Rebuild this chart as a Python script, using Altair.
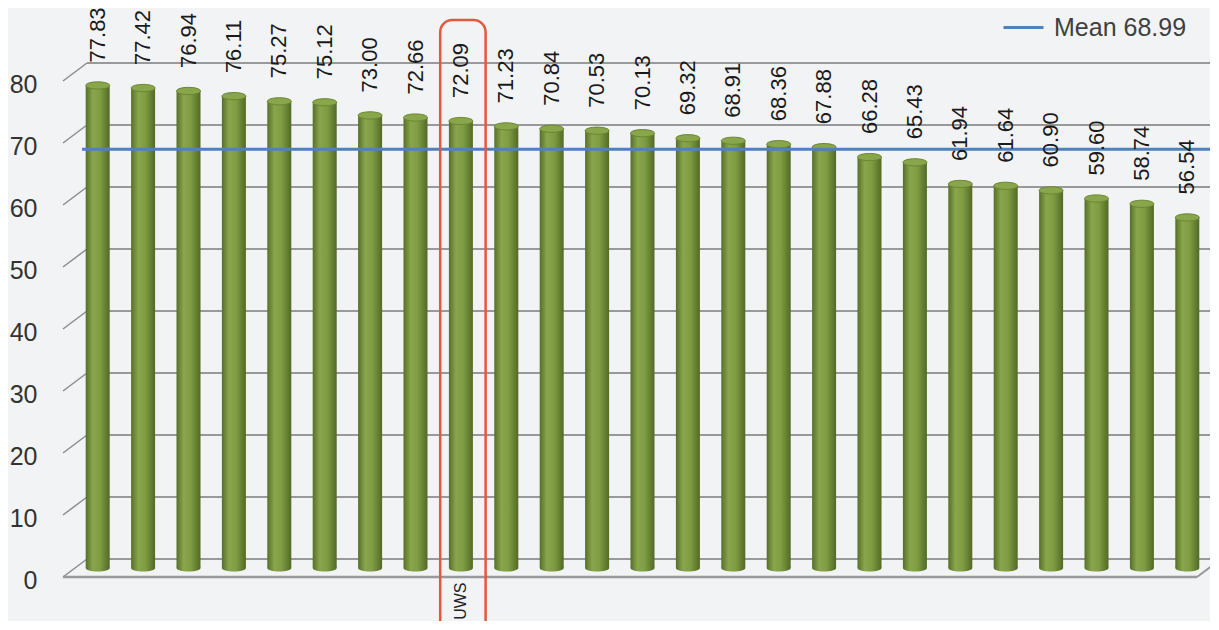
import altair as alt
import pandas as pd

# ---- data ----
categories = ["U01", "U02", "U03", "U04", "U05", "U06", "U07", "U08", "UWS",
              "U10", "U11", "U12", "U13", "U14", "U15", "U16", "U17", "U18",
              "U19", "U20", "U21", "U22", "U23", "U24", "U25"]
values = [77.83, 77.42, 76.94, 76.11, 75.27, 75.12, 73.00, 72.66, 72.09,
          71.23, 70.84, 70.53, 70.13, 69.32, 68.91, 68.36, 67.88, 66.28,
          65.43, 61.94, 61.64, 60.90, 59.60, 58.74, 56.54]
y_ticks = [0, 10, 20, 30, 40, 50, 60, 70, 80]
mean_value = 68.99
mean_label = "Mean 68.99"
highlight = "UWS"

W, H = 1135, 496
FONT = "Liberation Sans"

bars_df = pd.DataFrame({"cat": categories, "val": values})
bars_df["lbl"] = [f"{v:.2f}" for v in values]
grid_df = pd.DataFrame({"g": y_ticks})
floor_df = pd.DataFrame({"g": [0]})
mean_df = pd.DataFrame({"m": [mean_value], "name": [mean_label]})
hl_df = pd.DataFrame({"cat": [highlight]})

x_enc = alt.X("cat:N", sort=categories,
              scale=alt.Scale(paddingInner=0, paddingOuter=0),
              axis=alt.Axis(title=None, domain=False, ticks=False, tickSize=0,
                            grid=False, labelAngle=270, labelPadding=14,
                            labelFont=FONT, labelFontSize=16, labelColor="#222",
                            labelExpr=f"datum.value == '{highlight}' ? '{highlight}' : ''"))
y_scale = alt.Scale(domain=[0, 80], nice=False)
y_enc = alt.Y("val:Q", scale=y_scale,
              axis=alt.Axis(title=None, values=y_ticks, domain=False, ticks=False,
                            tickSize=0, grid=False, labelPadding=38, labelOffset=12,
                            labelFont=FONT, labelFontSize=25, labelColor="#333"))

grad = alt.Gradient(gradient="linear", x1=0, x2=1, y1=0, y2=0,
                    stops=[alt.GradientStop(offset=0, color="#566f29"),
                           alt.GradientStop(offset=0.3, color="#8aa64c"),
                           alt.GradientStop(offset=0.6, color="#7f9c42"),
                           alt.GradientStop(offset=1, color="#526a26")])
ellipse = "M -1 0 A 1 0.3 0 1 0 1 0 A 1 0.3 0 1 0 -1 0 Z"

grid = alt.Chart(grid_df).mark_rule(yOffset=-9, color="#999999", strokeWidth=2).encode(
    y=alt.Y("g:Q", scale=y_scale), x=alt.value(12), x2=alt.value(W))
side = alt.Chart(grid_df).mark_rule(yOffset=9, y2Offset=-9, color="#8c8c8c", strokeWidth=1.5).encode(
    y=alt.Y("g:Q", scale=y_scale), y2="g:Q", x=alt.value(-12), x2=alt.value(12))
floor = alt.Chart(floor_df).mark_rule(yOffset=9, color="#999999", strokeWidth=2.5).encode(
    y=alt.Y("g:Q", scale=y_scale), x=alt.value(-12), x2=alt.value(W - 13))
floor_r = alt.Chart(floor_df).mark_rule(yOffset=9, y2Offset=-9, color="#999999", strokeWidth=2).encode(
    y=alt.Y("g:Q", scale=y_scale), y2="g:Q", x=alt.value(W - 13), x2=alt.value(W + 11))

bottoms = alt.Chart(bars_df).mark_point(shape=ellipse, size=576, filled=True, fill=grad,
                                        opacity=1, strokeWidth=0).encode(
    x=x_enc, y=alt.Y("zero:Q", scale=y_scale)).transform_calculate(zero="0")
bars = alt.Chart(bars_df).mark_bar(width=24, fill=grad).encode(x=x_enc, y=y_enc)
tops = alt.Chart(bars_df).mark_point(shape=ellipse, size=576, filled=True, fill="#8aa64b",
                                     stroke="#6a8632", strokeWidth=1, opacity=1).encode(
    x=x_enc, y=alt.Y("val:Q", scale=y_scale))
labels = alt.Chart(bars_df).mark_text(angle=270, align="left", baseline="middle", yOffset=-23,
                                      font=FONT, fontSize=22, color="#1a1a1a").encode(
    x=x_enc, y=alt.Y("val:Q", scale=y_scale), text="lbl:N")

mean_line = alt.Chart(mean_df).mark_rule(yOffset=9, strokeWidth=3).encode(
    y=alt.Y("m:Q", scale=y_scale), x=alt.value(7), x2=alt.value(W),
    color=alt.Color("name:N", scale=alt.Scale(range=["#4f81bd"]),
                    legend=alt.Legend(orient="none", legendX=927, legendY=-66, title=None,
                                      symbolType="stroke", symbolStrokeWidth=3, symbolSize=1600,
                                      labelFont=FONT, labelFontSize=25, labelColor="#404040",
                                      labelOffset=9)))

box = alt.Chart(hl_df).mark_rect(fillOpacity=0, fill="white", stroke="#e05a3f", strokeWidth=2.5,
                                 cornerRadius=12, xOffset=2).encode(
    x=x_enc, y=alt.value(-52), y2=alt.value(H + 80))

chart = alt.layer(grid, side, floor, floor_r, bottoms, bars, tops, mean_line, labels, box).properties(
    width=W, height=H,
    autosize=alt.AutoSizeParams(type="none"),
    padding={"left": 67, "top": 64, "right": 0, "bottom": 53},
    background="#f2f3f5",
).configure_view(stroke=None)

chart.save("out.html", embed_options={"renderer": "svg", "actions": False})
